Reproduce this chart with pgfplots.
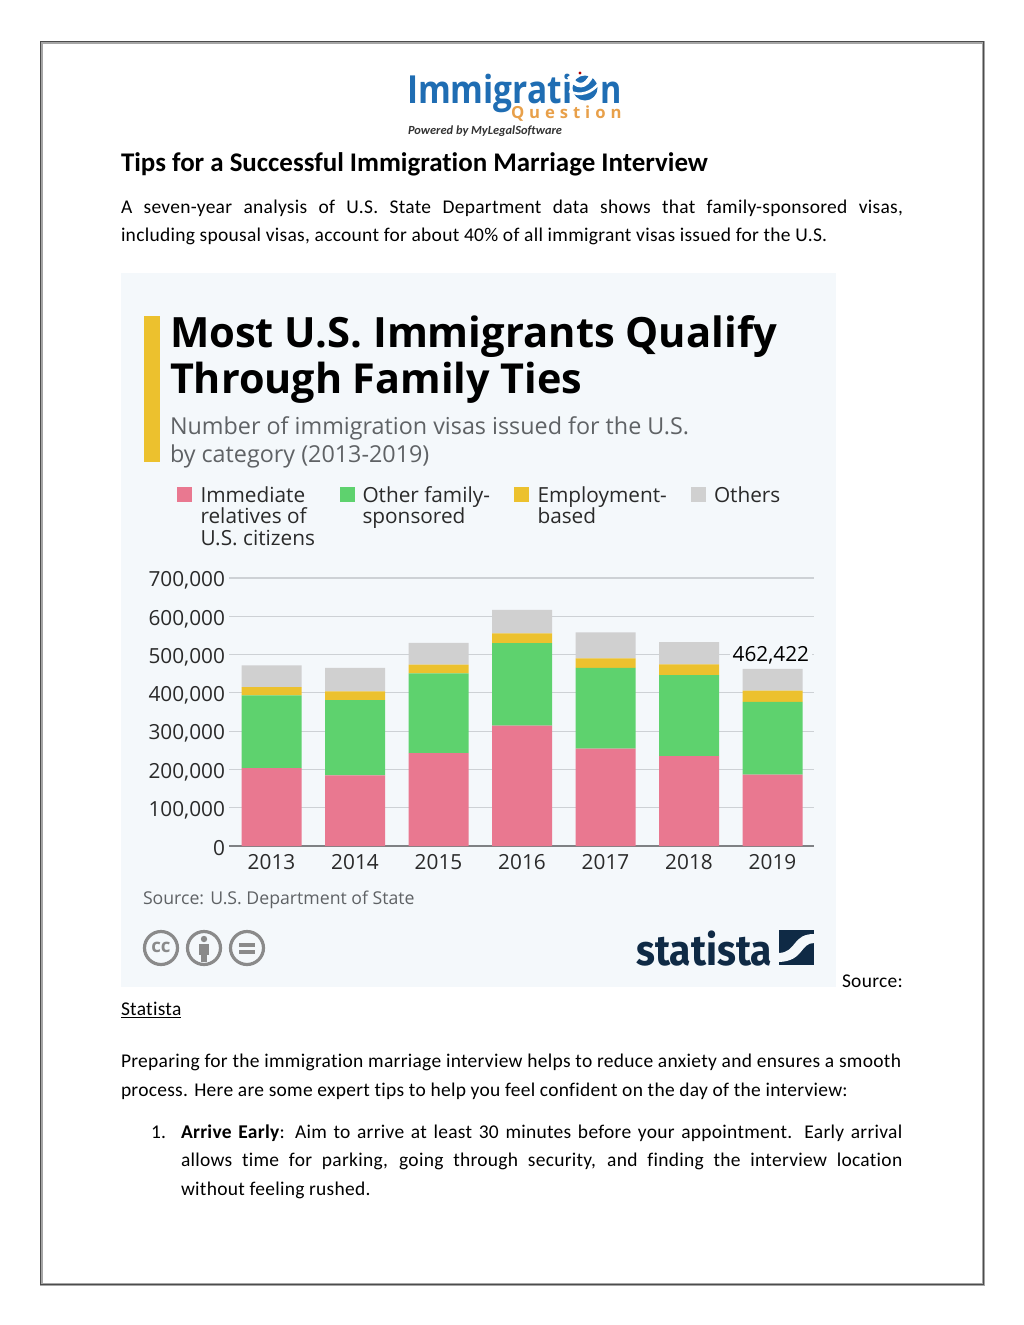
\documentclass[border=0pt]{standalone}
\usepackage{pgfplots}
\pgfplotsset{compat=1.18}
\usepackage{fontspec}
\setmainfont{Carlito}[LetterSpace=1.5,Ligatures=NoCommon]
\newfontfamily\head{Carlito}[Ligatures=NoCommon]
\newfontfamily\os{Open Sans}
\newfontfamily\fira{Fira Sans}
\definecolor{panel}{HTML}{F4F8FB}
\definecolor{cpink}{HTML}{E97890}
\definecolor{cgreen}{HTML}{5ED26E}
\definecolor{cyellow}{HTML}{ECC12E}
\definecolor{cgrey}{HTML}{D0D0D0}
\definecolor{gridc}{HTML}{CDD1D5}
\definecolor{axisc}{HTML}{7F8184}
\definecolor{txt}{HTML}{2A2A2A}
\definecolor{sub}{HTML}{5F6265}
\definecolor{navy}{HTML}{0F2A45}
\definecolor{logob}{HTML}{1F6DB3}
\definecolor{logoo}{HTML}{E8A04A}
\definecolor{ccg}{HTML}{8A8A8A}
\pgfplotstableread{
x imm other emp others
0 203700 189700 21600 56700
1 184500 196700 22600 61800
2 242800 208000 22700 57400
3 314200 215800 25300 61700
4 254100 211500 24400 67900
5 235000 211500 27800 58300
6 186200 190600 28800 56822
}\visas
\begin{document}
\begin{tikzpicture}[x=0.75pt,y=-0.75pt,
  t/.style={anchor=base west,inner sep=0pt,outer sep=0pt}]
\path (0,0) rectangle (1024,1325);
% page frame
\draw[line width=2.25pt,black!35] (41.5,42) rectangle (983,1284);
\draw[line width=0.5pt,black!70] (40.5,41) rectangle (983.8,1284.8);
% logo
\node[t,text=logob] at (407,103) {\os\bfseries\fontsize{29}{29}\selectfont\scalebox{0.865}[1]{Immigrati}};
\node[t,text=logob] at (600,103) {\os\bfseries\fontsize{29}{29}\selectfont\scalebox{0.84}[1]{n}};
\fill[logob] (585,88) circle (12.5);
\draw[white,line width=3.4pt] (569,76) .. controls (576,88) and (586,89) .. (592,74);
\draw[white,line width=2pt] (569,91) .. controls (580,97) and (592,93) .. (600,82);
\fill[red!70!black] (580,73) circle (1.6);
\node[t,text=logoo] at (511,118) {\os\bfseries\fontsize{12.5}{13}\selectfont Q\kern3.7pt u\kern3.7pt e\kern3.7pt s\kern3.7pt t\kern3.7pt i\kern3.7pt o\kern3.7pt n};
\node[t,text=black!80] at (408,134) {\head\fontsize{9.3}{9.5}\selectfont\bfseries\itshape Powered by MyLegalSoftware};
% heading and paragraph
\node[t] at (121,171) {\head\fontsize{20.2}{20}\selectfont\bfseries Tips for a Successful Immigration Marriage Interview};
\node[t] at (121,213) {\fontsize{14.6}{16}\selectfont\makebox[586.5pt][s]{A seven-year analysis of U.S. State Department data shows that family-sponsored visas,}};
\node[t] at (121,241) {\fontsize{14.6}{16}\selectfont including spousal visas, account for about 40\% of all immigrant visas issued for the U.S.};
% panel
\fill[panel] (121,273) rectangle (836,987);
\fill[cyellow] (144,316) rectangle (160,462);
\node[t] at (170,347) {\os\bfseries\fontsize{31.3}{31}\selectfont Most U.S. Immigrants Qualify};
\node[t] at (170,393.5) {\os\bfseries\fontsize{31}{31}\selectfont Through Family Ties};
\node[t,text=sub] at (170,434) {\os\fontsize{17.5}{18}\selectfont Number of immigration visas issued for the U.S.};
\node[t,text=sub] at (170,462) {\os\fontsize{17.5}{18}\selectfont by category (2013-2019)};
% legend
\fill[cpink] (177,487) rectangle (192,502);
\fill[cgreen] (340,487) rectangle (355,502);
\fill[cyellow] (514,487) rectangle (529,502);
\fill[cgrey] (691,487) rectangle (706,502);
\foreach \xx/\yy/\lbl in {200.5/502/Immediate,200.5/523.5/relatives of,200.5/545/U.S. citizens,362.5/502/Other family-,362.5/523.5/sponsored,537.5/502/Employment-,537.5/523.5/based,714/502/Others}
  \node[t,text=txt] at (\xx,\yy) {\os\fontsize{15.6}{16}\selectfont \lbl};
% chart
\begin{axis}[
  at={(171.75pt,-634.5pt)},anchor=south west,
  width=438.75pt,height=201pt,scale only axis,
  ybar stacked,bar width=45pt,
  xmin=-0.509,xmax=6.497,ymin=0,ymax=700000,
  xtick=data,xticklabels={2013,2014,2015,2016,2017,2018,2019},
  ytick={0,100000,200000,300000,400000,500000,600000,700000},
  scaled y ticks=false,
  /pgf/number format/.cd,fixed,1000 sep={,},assume math mode=true,/pgfplots/.cd,
  axis x line=bottom,axis y line=left,
  x axis line style={axisc,line width=1.2pt,-},
  y axis line style={draw=none},
  ymajorgrids,grid style={gridc,line width=0.8pt},
  major tick length=0pt,
  tick label style={font=\os\fontsize{15.6}{16}\selectfont,text=txt},
  yticklabel style={xshift=0.5pt,yshift=-1.9pt},
  xticklabel style={yshift=-2.4pt},
  clip=false,
  every axis plot/.append style={draw=none},
]
\addplot[fill=cpink] table[x=x,y=imm]{\visas};
\addplot[fill=cgreen] table[x=x,y=other]{\visas};
\addplot[fill=cyellow] table[x=x,y=emp]{\visas};
\addplot[fill=cgrey] table[x=x,y=others]{\visas};
\node[fill=panel,inner sep=2pt,text=black,font=\os\fontsize{15.6}{16}\selectfont] at (axis cs:5.98,499000) {462,422};
\end{axis}
% source
\node[t,text=sub] at (143,904) {\os\fontsize{13.26}{14}\selectfont Source: U.S. Department of State};
% cc icons
\foreach \c in {161,204,247}
  \draw[ccg,line width=2.4pt] (\c,948) circle (16.5);
\node[text=ccg,inner sep=0pt] at (161,947) {\os\bfseries\fontsize{14}{14}\selectfont cc};
\fill[ccg] (204,939) circle (3.2);
\fill[ccg] (199,944) rectangle (209,955);
\fill[ccg] (201,955) rectangle (207,962);
\fill[ccg] (239,943) rectangle (255,946.5);
\fill[ccg] (239,950) rectangle (255,953.5);
% statista logo
\node[anchor=base west,inner sep=0pt,text=navy] at (636,965) {\fira\bfseries\fontsize{32}{32}\selectfont\scalebox{0.915}[1]{statista}};
\fill[navy] (779,930) rectangle (814,965);
\fill[panel] (779,953) .. controls (797,952) and (792,934) .. (814,934) -- (814,943) .. controls (800,943) and (804,961) .. (779,962) -- cycle;
% body text
\node[t] at (842,987) {\fontsize{14.6}{16}\selectfont Source:};
\node[t] at (121,1015) {\fontsize{14.6}{16}\selectfont\underline{Statista}};
\node[t] at (121,1067) {\fontsize{14.6}{16}\selectfont\makebox[585pt][s]{Preparing for the immigration marriage interview helps to reduce anxiety and ensures a smooth}};
\node[t] at (121,1096) {\fontsize{14.6}{16}\selectfont process. Here are some expert tips to help you feel confident on the day of the interview:};
\node[t] at (151,1138) {\fontsize{14.6}{16}\selectfont 1.};
\node[t] at (181,1138) {\fontsize{14.6}{16}\selectfont\makebox[541pt][s]{\textbf{Arrive Early}: Aim to arrive at least 30 minutes before your appointment. Early arrival}};
\node[t] at (181,1166) {\fontsize{14.6}{16}\selectfont\makebox[541pt][s]{allows time for parking, going through security, and finding the interview location}};
\node[t] at (181,1195) {\fontsize{14.6}{16}\selectfont without feeling rushed.};
\end{tikzpicture}
\end{document}
